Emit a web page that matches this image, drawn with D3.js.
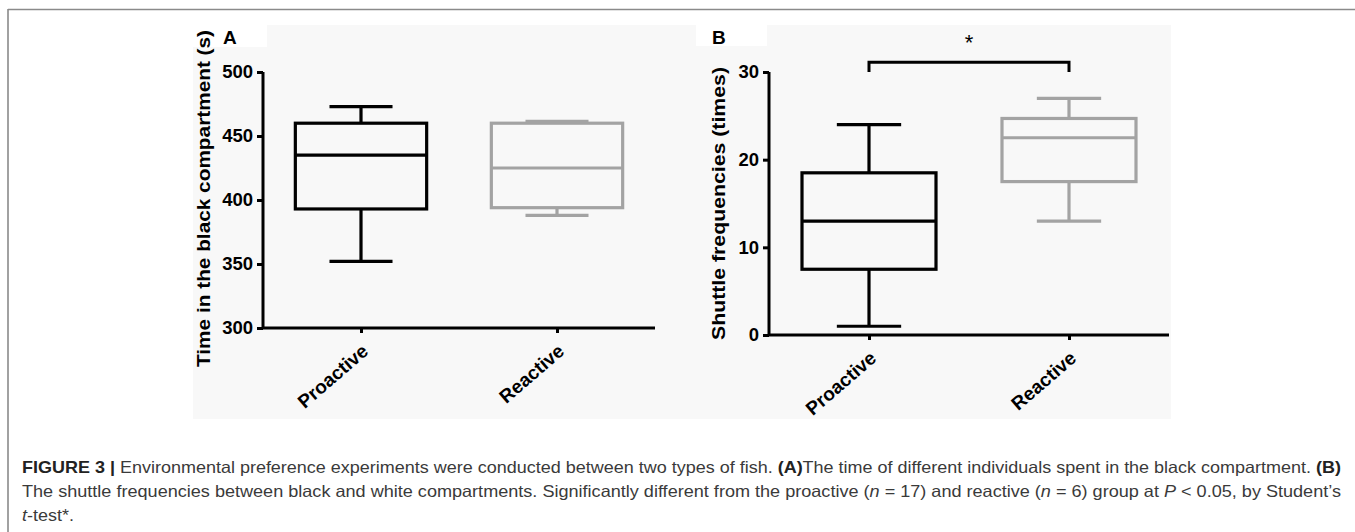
<!DOCTYPE html>
<html>
<head>
<meta charset="utf-8">
<script src="https://cdn.jsdelivr.net/npm/d3@7"></script>
<style>
  body { margin: 0; background: #fff; }
  svg text { font-family: "Liberation Sans", Arial, sans-serif; }
</style>
</head>
<body>
<div class="chart"></div>
<script>
var svgWidth = 1355;
var svgHeight = 532;

// data
var categories = ["Proactive", "Reactive"];

// panel A: time in black compartment (s)
var timeTicks = [300, 350, 400, 450, 500];
var timeMin = [352, 388];
var timeQ1 = [393, 394];
var timeMedian = [435, 425];
var timeQ3 = [460, 460];
var timeMax = [473, 461.5];

// panel B: shuttle frequencies (times)
var shuttleTicks = [0, 10, 20, 30];
var shuttleMin = [1, 13];
var shuttleQ1 = [7.5, 17.5];
var shuttleMedian = [13, 22.5];
var shuttleQ3 = [18.5, 24.7];
var shuttleMax = [24, 27];
var bracketLevel = 31.1;

var boxColors = ["#000000", "#a3a3a3"];

var svg = d3.select(".chart")
  .append("svg")
  .attr("width", svgWidth)
  .attr("height", svgHeight);

// frame lines of the figure
svg.append("line")
  .attr("x1", 8).attr("x2", svgWidth).attr("y1", 9.5).attr("y2", 9.5)
  .attr("stroke", "#8a8a8a").attr("stroke-width", 1.6);
svg.append("line")
  .attr("x1", 8).attr("x2", 8).attr("y1", 9).attr("y2", svgHeight)
  .attr("stroke", "#8a8a8a").attr("stroke-width", 1.6);

// light background of the picture
svg.append("rect")
  .attr("x", 193).attr("y", 25).attr("width", 978).attr("height", 394)
  .attr("fill", "#f8f8f8");
svg.append("rect")
  .attr("x", 193).attr("y", 25).attr("width", 74).attr("height", 22)
  .attr("fill", "#ffffff");
svg.append("rect")
  .attr("x", 696).attr("y", 25).attr("width", 71).attr("height", 21)
  .attr("fill", "#ffffff");

/***************************************************************************/
// one box panel
function drawPanel(opt)
{
  var g = svg.append("g");

  var x = d3.scalePoint()
    .domain(categories)
    .range([opt.left, opt.right])
    .padding(0.5);

  var y = d3.scaleLinear()
    .domain(opt.domain)
    .range([opt.bottom, opt.top]);

  var boxW = x.step() * 0.67;
  var capW = boxW * 0.48;

  var rows = categories.map(function(c, i) {
    return { cat: c, lo: opt.min[i], q1: opt.q1[i], med: opt.med[i], q3: opt.q3[i], hi: opt.max[i], color: boxColors[i] };
  });

  var box = g.selectAll(".box")
    .data(rows)
    .enter()
    .append("g")
    .attr("stroke", d => d.color)
    .attr("stroke-width", 3.2)
    .attr("fill", "none");

  // whiskers
  box.append("line")
    .attr("x1", d => x(d.cat)).attr("x2", d => x(d.cat))
    .attr("y1", d => y(d.hi)).attr("y2", d => y(d.q3));
  box.append("line")
    .attr("x1", d => x(d.cat)).attr("x2", d => x(d.cat))
    .attr("y1", d => y(d.q1)).attr("y2", d => y(d.lo));
  box.append("line")
    .attr("x1", d => x(d.cat) - capW / 2).attr("x2", d => x(d.cat) + capW / 2)
    .attr("y1", d => y(d.hi)).attr("y2", d => y(d.hi));
  box.append("line")
    .attr("x1", d => x(d.cat) - capW / 2).attr("x2", d => x(d.cat) + capW / 2)
    .attr("y1", d => y(d.lo)).attr("y2", d => y(d.lo));

  box.append("rect")
    .attr("x", d => x(d.cat) - boxW / 2)
    .attr("width", boxW)
    .attr("y", d => y(d.q3))
    .attr("height", d => y(d.q1) - y(d.q3))
    .attr("fill", "none");

  box.append("line")
    .attr("x1", d => x(d.cat) - boxW / 2).attr("x2", d => x(d.cat) + boxW / 2)
    .attr("y1", d => y(d.med)).attr("y2", d => y(d.med));

  // axes
  var leftAxis = d3.axisLeft(y).tickValues(opt.ticks).tickSize(6).tickPadding(4);
  var yAxis = g.append("g")
    .attr("transform", `translate(${opt.left}, 0)`)
    .call(leftAxis);

  var bottomAxis = d3.axisBottom(x).tickSize(5).tickFormat("");
  var xAxis = g.append("g")
    .attr("transform", `translate(0, ${opt.bottom})`)
    .call(bottomAxis);

  [yAxis, xAxis].forEach(function(a) {
    a.select(".domain").attr("stroke", "#000").attr("stroke-width", 3).attr("d",
      a === yAxis ? `M0,${opt.top}V${opt.bottom}` : `M${opt.left},0H${opt.right}`);
    a.selectAll(".tick line").attr("stroke", "#000").attr("stroke-width", 3);
  });

  yAxis.selectAll(".tick text")
    .attr("font-family", "Liberation Sans, Arial, sans-serif")
    .attr("font-weight", "bold")
    .attr("font-size", 18.5)
    .attr("fill", "#000");

  // slanted category labels
  g.selectAll(".xlab")
    .data(categories)
    .enter()
    .append("text")
    .attr("text-anchor", "end")
    .attr("font-weight", "bold")
    .attr("font-size", 19)
    .attr("transform", d => `translate(${x(d) + 4}, ${opt.bottom + 20}) rotate(-41)`)
    .attr("dy", "0.35em")
    .text(d => d);

  // axis title
  g.append("text")
    .attr("transform", `translate(${opt.titleX}, ${(opt.titleTop + opt.titleBottom) / 2}) rotate(-90)`)
    .attr("text-anchor", "middle")
    .attr("dy", "0.36em")
    .attr("font-weight", "bold")
    .attr("font-size", 18.5)
    .attr("textLength", opt.titleBottom - opt.titleTop)
    .attr("lengthAdjust", "spacingAndGlyphs")
    .text(opt.title);

  // panel letter
  g.append("text")
    .attr("x", opt.letterX).attr("y", 44)
    .attr("font-weight", "bold")
    .attr("font-size", 19)
    .text(opt.letter);

  return { g: g, x: x, y: y };
}

drawPanel({
  left: 263, right: 655, top: 72, bottom: 328,
  domain: [300, 500], ticks: timeTicks,
  min: timeMin, q1: timeQ1, med: timeMedian, q3: timeQ3, max: timeMax,
  title: "Time in the black compartment (s)", titleX: 203, titleTop: 30, titleBottom: 367,
  letter: "A", letterX: 223
});

var panelB = drawPanel({
  left: 769, right: 1169, top: 72, bottom: 335,
  domain: [0, 30], ticks: shuttleTicks,
  min: shuttleMin, q1: shuttleQ1, med: shuttleMedian, q3: shuttleQ3, max: shuttleMax,
  title: "Shuttle frequencies (times)", titleX: 718, titleTop: 67, titleBottom: 340,
  letter: "B", letterX: 712
});

// significance bracket
var bx0 = panelB.x(categories[0]);
var bx1 = panelB.x(categories[1]);
var by = panelB.y(bracketLevel);
var byEnd = panelB.y(30);
panelB.g.append("path")
  .attr("d", `M${bx0},${byEnd}V${by}H${bx1}V${byEnd}`)
  .attr("fill", "none")
  .attr("stroke", "#000")
  .attr("stroke-width", 3);
panelB.g.append("text")
  .attr("x", (bx0 + bx1) / 2)
  .attr("y", by - 12)
  .attr("text-anchor", "middle")
  .attr("font-size", 22)
  .text("*");

/***************************************************************************/
// caption: narrow-looking text, squeezed to the measured line width
var cap = svg.append("g")
  .attr("fill", "#3a3a3a")
  .attr("font-size", 16.5);

var line1 = cap.append("text")
  .attr("x", 22).attr("y", 473);
line1.append("tspan").attr("font-weight", "bold").attr("fill", "#222").text("FIGURE 3 | ");
line1.append("tspan").text("Environmental preference experiments were conducted between two types of fish. ");
line1.append("tspan").attr("font-weight", "bold").attr("fill", "#222").text("(A)");
line1.append("tspan").text("The time of different individuals spent in the black compartment. ");
line1.append("tspan").attr("font-weight", "bold").attr("fill", "#222").text("(B)");

var line2 = cap.append("text")
  .attr("x", 22).attr("y", 497);
line2.append("tspan").text("The shuttle frequencies between black and white compartments. Significantly different from the proactive (");
line2.append("tspan").attr("font-style", "italic").text("n");
line2.append("tspan").text(" = 17) and reactive (");
line2.append("tspan").attr("font-style", "italic").text("n");
line2.append("tspan").text(" = 6) group at ");
line2.append("tspan").attr("font-style", "italic").text("P");
line2.append("tspan").text(" < 0.05, by Student\u2019s");

var squeeze = 1319 / line1.node().getComputedTextLength();
line1.attr("textLength", 1319).attr("lengthAdjust", "spacingAndGlyphs");
line2.attr("textLength", 1319).attr("lengthAdjust", "spacingAndGlyphs");

var line3 = cap.append("text")
  .attr("transform", `translate(22, 521) scale(${squeeze}, 1)`);
line3.append("tspan").attr("font-style", "italic").text("t");
line3.append("tspan").text("-test*.");
</script>
</body>
</html>
